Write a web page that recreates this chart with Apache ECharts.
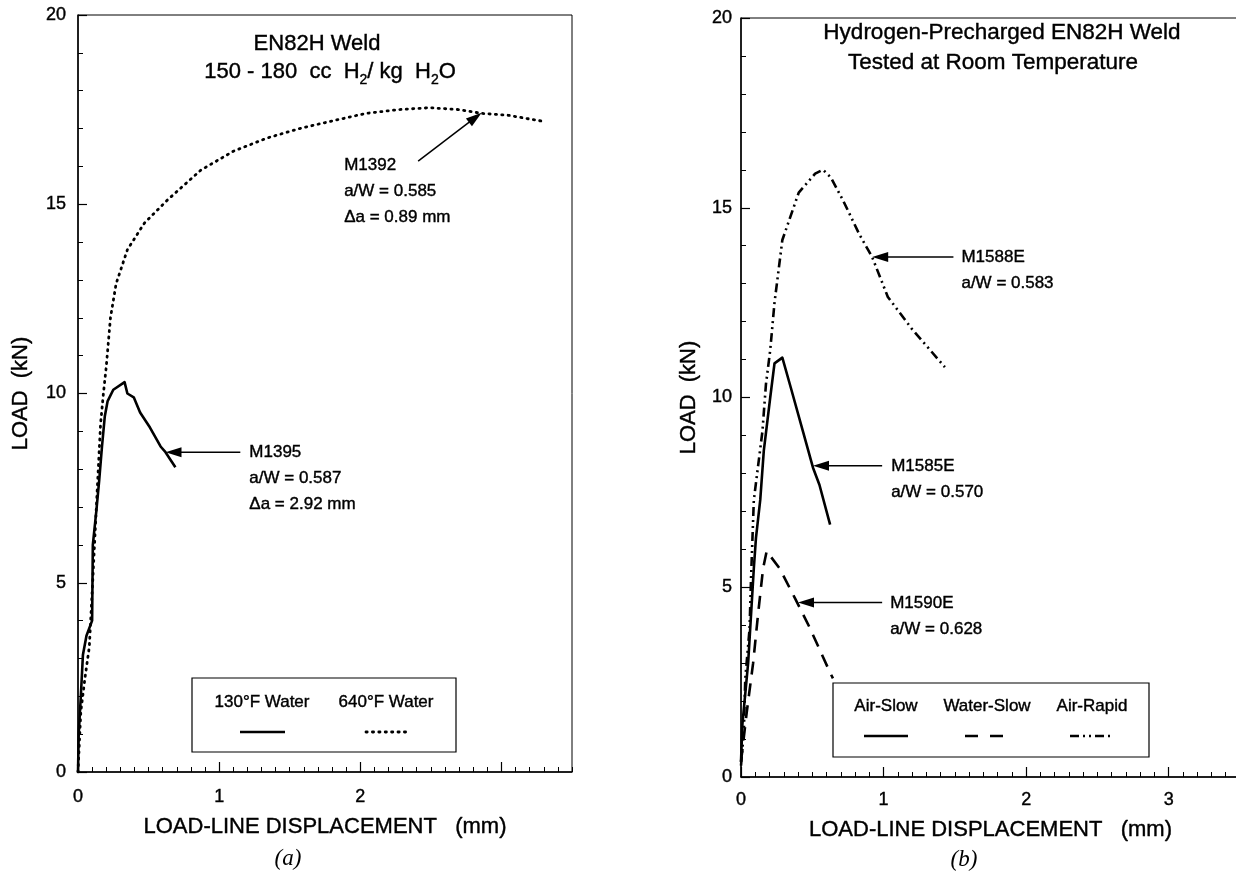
<!DOCTYPE html>
<html>
<head>
<meta charset="utf-8">
<script src="https://cdn.jsdelivr.net/npm/echarts@6/dist/echarts.min.js"></script>
<style>
  html, body { margin: 0; padding: 0; background: #fff; }
  #chart { width: 1236px; height: 880px; }
</style>
</head>
<body>
<div id="chart"></div>
<script>
// ---- Panel (a): EN82H weld, 150-180 cc H2/kg H2O ----
// M1395, 130°F water (solid)
const dispM1395 = [0, 0.005, 0.02, 0.035, 0.06, 0.10, 0.105, 0.13, 0.15, 0.17, 0.19, 0.21, 0.25, 0.33, 0.35, 0.395, 0.44, 0.51, 0.585, 0.62, 0.69];
const loadM1395 = [0, 1.0, 2.0, 3.1, 3.6, 4.0, 6.0, 6.9, 7.7, 8.6, 9.4, 9.8, 10.1, 10.3, 10.0, 9.9, 9.5, 9.1, 8.6, 8.45, 8.05];
// M1392, 640°F water (dotted)
const dispM1392 = [0, 0.02, 0.05, 0.08, 0.105, 0.13, 0.16, 0.18, 0.20, 0.23, 0.27, 0.35, 0.47, 0.63, 0.87, 1.10, 1.34, 1.57, 1.80, 2.04, 2.27, 2.49, 2.70, 2.86, 3.05, 3.28];
const loadM1392 = [0, 1.6, 2.5, 3.3, 5.1, 7.0, 9.2, 10.0, 10.7, 12.0, 12.9, 13.8, 14.5, 15.1, 15.9, 16.4, 16.75, 17.0, 17.2, 17.4, 17.5, 17.55, 17.5, 17.4, 17.35, 17.2];

// ---- Panel (b): hydrogen-precharged EN82H weld, room temperature ----
// M1588E, air-rapid (dash-dot-dot)
const dispM1588E = [0, 0.02, 0.03, 0.06, 0.07, 0.09, 0.15, 0.175, 0.205, 0.235, 0.29, 0.405, 0.52, 0.575, 0.63, 0.715, 0.83, 0.92, 1.03, 1.20, 1.43];
const loadM1588E = [0.3, 1.2, 2.6, 3.9, 5.2, 7.3, 9.1, 10.35, 11.25, 12.5, 14.15, 15.4, 15.9, 16.0, 15.8, 15.2, 14.3, 13.7, 12.65, 11.8, 10.8];
// M1585E, air-slow (solid)
const dispM1585E = [0, 0.01, 0.05, 0.09, 0.105, 0.135, 0.16, 0.205, 0.235, 0.29, 0.35, 0.435, 0.505, 0.55, 0.625];
const loadM1585E = [0.4, 1.4, 3.0, 5.5, 6.3, 7.3, 8.6, 10.0, 10.9, 11.05, 10.25, 9.1, 8.15, 7.7, 6.65];
// M1590E, water-slow (dashed)
const dispM1590E = [0, 0.04, 0.085, 0.12, 0.155, 0.18, 0.27, 0.38, 0.48, 0.625, 0.645];
const loadM1590E = [0.4, 1.7, 3.0, 4.3, 5.5, 5.95, 5.5, 4.7, 3.95, 2.75, 2.6];

// axis ticks
const xMajorTicks = [0, 1, 2, 3];
const xTickLabelsA = [0, 1, 2];
const xTickLabelsB = [0, 1, 2, 3];
const xRange = [0, 3.5];
const yRange = [0, 20];

// annotation texts
const labelsM1395 = ['M1395', 'a/W = 0.587', 'Δa = 2.92 mm'];
const labelsM1392 = ['M1392', 'a/W = 0.585', 'Δa = 0.89 mm'];
const labelsM1588E = ['M1588E', 'a/W = 0.583'];
const labelsM1585E = ['M1585E', 'a/W = 0.570'];
const labelsM1590E = ['M1590E', 'a/W = 0.628'];

const FONT = '"Liberation Sans", Arial, Helvetica, sans-serif';
const SERIF = '"Liberation Serif", "Times New Roman", serif';
const INK = '#000';
const HEAVY = 0.4;   // thin outline so the sans text reads a little heavier

const pairs = (xs, ys) => xs.map((x, i) => [x, ys[i]]);

function gridBox(left, top, width, height) {
  return { left, top, width, height, show: true, borderColor: INK, borderWidth: 1,
           backgroundColor: 'transparent', containLabel: false, outerBoundsMode: 'none' };
}

// fine ticks every 0.1 mm, carrying the integer labels
function xMinorAxis(gridIndex, labels, labelMargin, nameGap) {
  return {
    type: 'value', gridIndex, position: 'bottom', min: xRange[0], max: xRange[1], interval: 0.1,
    axisLine: { show: true, onZero: false, lineStyle: { color: INK, width: 1.5 } },
    axisTick: { show: true, inside: true, length: 5, lineStyle: { color: INK, width: 1 } },
    axisLabel: { show: true, customValues: labels, margin: labelMargin,
                 color: INK, fontFamily: FONT, fontSize: 18, textBorderColor: INK, textBorderWidth: HEAVY },
    splitLine: { show: false },
    name: 'LOAD-LINE DISPLACEMENT   (mm)', nameLocation: 'middle', nameGap,
    nameTextStyle: { color: INK, fontFamily: FONT, fontSize: 22, textBorderColor: INK, textBorderWidth: HEAVY }
  };
}
// long ticks at whole millimetres
function xMajorAxis(gridIndex) {
  return {
    type: 'value', gridIndex, position: 'bottom', min: xRange[0], max: xRange[1], interval: 1,
    axisLine: { show: false },
    axisTick: { show: true, inside: true, length: 10, customValues: xMajorTicks, lineStyle: { color: INK, width: 1.2 } },
    axisLabel: { show: false },
    splitLine: { show: false }
  };
}
function yAxis(gridIndex, labelMargin, nameGap) {
  return {
    type: 'value', gridIndex, min: yRange[0], max: yRange[1], interval: 5,
    axisLine: { show: true, onZero: false, lineStyle: { color: INK, width: 1.5 } },
    axisTick: { show: true, inside: true, length: 9, lineStyle: { color: INK, width: 1.2 } },
    minorTick: { show: true, splitNumber: 5, length: 5, lineStyle: { color: INK, width: 1 } },
    axisLabel: { margin: labelMargin, color: INK, fontFamily: FONT, fontSize: 18,
                 textBorderColor: INK, textBorderWidth: HEAVY },
    splitLine: { show: false }, minorSplitLine: { show: false },
    name: 'LOAD  (kN)', nameLocation: 'middle', nameRotate: 90, nameGap,
    nameTextStyle: { color: INK, fontFamily: FONT, fontSize: 22, textBorderColor: INK, textBorderWidth: HEAVY }
  };
}

function curve(xIdx, yIdx, xs, ys, lineStyle) {
  return {
    type: 'line', xAxisIndex: xIdx, yAxisIndex: yIdx, data: pairs(xs, ys),
    symbol: 'none', showSymbol: false, smooth: false, clip: true, silent: true,
    lineStyle: Object.assign({ color: INK, join: 'round' }, lineStyle)
  };
}

const styleSolid = { width: 2.6, type: 'solid' };
const styleDotted = { width: 2.8, type: [1.2, 5.2], cap: 'round' };
const styleDashed = { width: 2.6, type: [13, 9] };
const styleDashDotDot = { width: 2.6, type: [9, 4, 2, 4, 2, 4] };

// arrows from the notes to the curves, anchored in data units
const notes = [
  { series: 0, tip: [0.62, 8.45], tail: [1.15, 8.45], dx: 9, dy: 0, lines: labelsM1395 },
  { series: 1, tip: [2.86, 17.42], tail: [2.41, 16.14], dx: -74, dy: 4, lines: labelsM1392 },
  { series: 2, tip: [0.92, 13.7], tail: [1.49, 13.7], dx: 8, dy: 0, lines: labelsM1588E },
  { series: 3, tip: [0.505, 8.2], tail: [0.99, 8.2], dx: 9, dy: 1, lines: labelsM1585E },
  { series: 4, tip: [0.40, 4.6], tail: [0.99, 4.6], dx: 8, dy: 1, lines: labelsM1590E }
];

function arrowShapes(tail, tip) {
  const dx = tip[0] - tail[0], dy = tip[1] - tail[1];
  const len = Math.hypot(dx, dy);
  const ux = dx / len, uy = dy / len;
  const L = 16, W = 5;
  const bx = tip[0] - ux * L, by = tip[1] - uy * L;
  return [
    { type: 'line', silent: true, z: 20,
      shape: { x1: tail[0], y1: tail[1], x2: bx + ux * 2, y2: by + uy * 2 },
      style: { stroke: INK, lineWidth: 1.5 } },
    { type: 'polygon', silent: true, z: 20,
      shape: { points: [[tip[0], tip[1]], [bx - uy * W, by + ux * W], [bx + uy * W, by - ux * W]] },
      style: { fill: INK } }
  ];
}

function txt(x, y, text, size, align, extra) {
  return {
    type: 'text', silent: true, z: 20, x, y,
    style: Object.assign({ text, fill: INK, fontFamily: FONT, fontSize: size,
                           stroke: INK, lineWidth: HEAVY, align, verticalAlign: 'middle' }, extra || {})
  };
}
function legendBox(x, y, w, h) {
  return { type: 'rect', silent: true, z: 15, shape: { x, y, width: w, height: h },
           style: { fill: '#fff', stroke: INK, lineWidth: 1.2 } };
}
function legendSample(x1, x2, y, st) {
  return { type: 'line', silent: true, z: 16, shape: { x1, y1: y, x2, y2: y },
           style: { stroke: INK, lineWidth: st.width, lineDash: Array.isArray(st.type) ? st.type : null,
                    lineCap: st.cap || 'butt' } };
}

let chart = null;

function draw() {
  if (chart) chart.dispose();
  chart = echarts.init(document.getElementById('chart'), null, { renderer: 'canvas' });

  chart.setOption({
    animation: false,
    backgroundColor: '#fff',
    grid: [ gridBox(78, 15, 494, 757), gridBox(741, 18, 499, 759) ],
    xAxis: [ xMinorAxis(0, xTickLabelsA, 16, 44), xMajorAxis(0),
             xMinorAxis(1, xTickLabelsB, 14, 42), xMajorAxis(1) ],
    yAxis: [ yAxis(0, 12, 46), yAxis(1, 9, 41) ],
    series: [
      curve(0, 0, dispM1395, loadM1395, styleSolid),
      curve(0, 0, dispM1392, loadM1392, styleDotted),
      curve(2, 1, dispM1588E, loadM1588E, styleDashDotDot),
      curve(2, 1, dispM1585E, loadM1585E, styleSolid),
      curve(2, 1, dispM1590E, loadM1590E, styleDashed)
    ]
  });

  const graphics = [];
  notes.forEach(n => {
    const tip = chart.convertToPixel({ seriesIndex: n.series }, n.tip);
    const tail = chart.convertToPixel({ seriesIndex: n.series }, n.tail);
    graphics.push(...arrowShapes(tail, tip));
    graphics.push(txt(tail[0] + n.dx, tail[1] + n.dy - 13, n.lines.join('\n'), 17, 'left',
                      { lineHeight: 26, verticalAlign: 'top' }));
  });

  // titles inside the panels
  graphics.push(
    txt(317, 44, 'EN82H Weld', 22, 'center'),
    txt(330, 72, '150 - 180  cc  H{s|2}/ kg  H{s|2}O', 22, 'center', {
      lineHeight: 30,
      rich: { s: { fontFamily: FONT, fontSize: 14, lineHeight: 14, verticalAlign: 'bottom', fill: INK,
                   stroke: INK, lineWidth: HEAVY } }
    }),
    txt(1002, 33, 'Hydrogen-Precharged EN82H Weld', 22.5, 'center'),
    txt(993, 63, 'Tested at Room Temperature', 22.5, 'center')
  );

  // legend boxes
  graphics.push(
    legendBox(192, 678, 264, 74),
    txt(262, 702, '130°F Water', 17, 'center'),
    txt(386, 702, '640°F Water', 17, 'center'),
    legendSample(240, 285, 732, styleSolid),
    legendSample(366, 409, 732, styleDotted),

    legendBox(833, 683, 316, 74),
    txt(886, 706, 'Air-Slow', 17, 'center'),
    txt(987, 706, 'Water-Slow', 17, 'center'),
    txt(1092, 706, 'Air-Rapid', 17, 'center'),
    legendSample(864, 908, 736, styleSolid),
    legendSample(965, 1007, 736, { width: 2.6, type: [13, 12] }),
    legendSample(1070, 1112, 736, styleDashDotDot)
  );

  // panel captions
  graphics.push(
    txt(288, 859, '(a)', 23, 'center', { fontFamily: SERIF, fontStyle: 'italic', lineWidth: 0 }),
    txt(964, 860, '(b)', 23, 'center', { fontFamily: SERIF, fontStyle: 'italic', lineWidth: 0 })
  );

  chart.setOption({ graphic: { elements: graphics } });
}

// draw at once, then again once the local fonts are confirmed loaded
draw();
if (document.fonts && document.fonts.load) {
  Promise.all([
    document.fonts.load('18px "Liberation Sans"'),
    document.fonts.load('italic 22px "Liberation Serif"')
  ]).then(draw, () => {});
}
</script>
</body>
</html>
